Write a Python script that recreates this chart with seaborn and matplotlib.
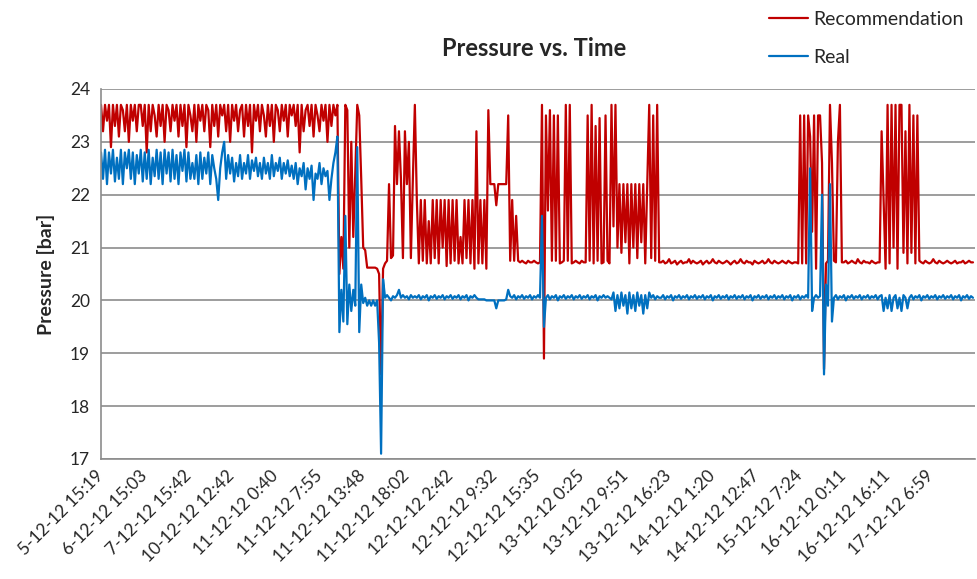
import matplotlib
matplotlib.use("Agg")
import matplotlib.pyplot as plt
import numpy as np
import pandas as pd
import seaborn as sns

# x axis labels (one every 22 samples)
time_labels = ["5-12-12 15:19", "6-12-12 15:03", "7-12-12 15:42", "10-12-12 12:42",
               "11-12-12 0:40", "11-12-12 7:55", "11-12-12 13:48", "11-12-12 18:02",
               "12-12-12 2:42", "12-12-12 9:32", "12-12-12 15:35", "13-12-12 0:25",
               "13-12-12 9:51", "13-12-12 16:23", "14-12-12 1:20", "14-12-12 12:47",
               "15-12-12 7:24", "16-12-12 0:11", "16-12-12 16:11", "17-12-12 6:59"]

# recommended pressure [bar]
rec_early = [23.7, 23.2, 23.7, 23.4, 23.7, 22.9, 23.7, 23.3, 23.7, 23.1,
             23.7, 23.6, 23.2, 23.7, 23.0, 23.7, 23.4, 23.7, 23.2, 23.7,
             23.7, 23.3, 23.7, 22.8, 23.7, 23.2, 23.7, 23.5, 23.1, 23.7,
             23.3, 23.7, 23.0, 23.7, 23.6, 23.2, 23.7, 23.4, 23.7, 23.1,
             23.7, 23.3, 23.7, 22.9, 23.7, 23.5, 23.2, 23.7, 23.0, 23.7,
             23.4, 23.7, 23.2, 23.7, 23.6, 22.9, 23.7, 23.3, 23.7, 23.1,
             23.7, 23.5, 23.7, 23.2, 23.7, 23.0, 23.7, 23.4, 23.7, 23.2,
             23.6, 23.7, 23.1, 23.7, 23.3, 23.7, 22.8, 23.7, 23.4, 23.7,
             23.2, 23.7, 23.5, 23.1, 23.7, 23.3, 23.7, 23.0, 23.7, 23.6,
             23.2, 23.7, 23.4, 23.7, 23.1, 23.7, 23.5, 23.7, 23.3, 23.7,
             22.8, 23.7, 23.2, 23.6, 23.7, 23.3, 23.7, 23.1, 23.7, 23.5,
             23.2, 23.7, 23.4, 23.7, 23.0, 23.7, 23.3, 23.7, 23.5, 23.7]
rec_drop = [20.5, 21.2, 20.6, 23.7, 23.6, 21.0, 23.0, 21.2, 22.4, 23.7,
            23.5, 22.3, 21.0, 20.95, 20.62, 20.62, 20.62, 20.62, 20.62, 20.6,
            20.5, 18.6, 20.6, 20.7, 20.75, 22.2, 20.8, 20.85, 23.3, 22.2,
            23.2, 22.3, 20.8, 23.2, 22.2, 23.0, 20.8, 22.3, 23.7]
rec_mid = [21.9, 20.7, 21.9, 20.75, 21.9, 20.7, 21.5, 20.7, 21.9, 20.8,
           21.9, 20.7, 21.9, 21.0, 21.9, 20.65, 21.9, 20.7, 21.9, 20.75,
           21.9, 20.7, 21.2, 20.7, 21.9, 20.8, 21.9, 20.7, 21.9, 20.6,
           23.2, 20.7, 21.9, 20.7, 21.9, 20.6, 23.6, 22.2, 22.2, 22.2,
           21.8, 22.2, 22.2, 22.2, 22.2, 22.2, 23.5, 20.75, 21.9, 20.75,
           21.6, 20.75, 20.72, 20.75, 20.72, 20.7, 20.75, 20.72, 20.72, 20.75,
           20.72, 20.7, 20.72]
rec_spikes = [23.7, 18.9, 23.5, 21.7, 23.6, 20.75, 23.5, 20.75, 23.5, 20.7,
              20.72, 20.75, 23.7, 20.75, 23.7, 20.7, 20.72, 20.75, 20.72, 20.7,
              20.75, 20.72, 20.72, 23.5, 20.75, 23.7, 20.7, 23.3, 20.75, 23.45,
              20.7, 20.72, 23.5, 20.75, 20.7, 23.7, 21.4, 23.7, 21.0, 22.2,
              20.9, 22.2, 21.1, 22.2, 20.7, 22.2, 21.0, 22.2, 20.8, 22.2,
              21.1, 22.2, 20.7, 22.2, 23.7, 20.8, 23.5, 20.75, 23.7, 20.72]
rec_calm = [20.72, 20.75, 20.7, 20.72, 20.78, 20.7, 20.72, 20.75, 20.68, 20.72,
            20.75, 20.7, 20.72, 20.72, 20.78, 20.7, 20.75, 20.72, 20.7, 20.72,
            20.75, 20.68, 20.72, 20.75, 20.7, 20.72, 20.78, 20.72, 20.7, 20.75,
            20.72, 20.7, 20.72, 20.75, 20.72, 20.68, 20.72, 20.75, 20.7, 20.72,
            20.78, 20.72, 20.7, 20.75, 20.72, 20.72, 20.68, 20.75, 20.72, 20.7,
            20.72, 20.75, 20.7, 20.72, 20.78, 20.72, 20.7, 20.75, 20.72, 20.7,
            20.72, 20.75, 20.72, 20.7, 20.75, 20.72, 20.7, 20.72]
rec_late = [20.72, 20.7, 23.5, 20.7, 23.5, 20.7, 23.5, 23.1, 21.3, 23.5,
            20.6, 23.5, 23.5, 22.6, 18.7, 20.7, 20.75, 23.7, 22.6, 20.75,
            20.72, 23.0, 23.7, 20.72,
            20.72, 20.75, 20.7, 20.72, 20.75, 20.72, 20.7, 20.78, 20.72, 20.7,
            20.75, 20.72, 20.72, 20.7, 20.75, 20.72, 20.7, 20.72,
            20.72, 23.2, 21.9, 20.6, 23.7, 20.7, 23.7, 21.0, 23.7, 20.6,
            23.7, 23.7, 20.9, 23.2, 20.7, 23.7, 20.9, 23.5, 20.7, 23.5,
            20.75,
            20.72, 20.7, 20.75, 20.72, 20.7, 20.72, 20.78, 20.72, 20.7, 20.75,
            20.72, 20.7, 20.72, 20.75, 20.72, 20.7, 20.72, 20.75, 20.7, 20.72,
            20.72, 20.75, 20.7, 20.72, 20.75, 20.72, 20.72]

# measured pressure [bar]
real_early = [22.8, 22.3, 22.85, 22.2, 22.8, 22.4, 22.85, 22.25, 22.7, 22.3,
              22.85, 22.2, 22.8, 22.5, 22.85, 22.3, 22.8, 22.2, 22.75, 22.4,
              22.85, 22.25, 22.8, 22.3, 22.85, 22.2, 22.7, 22.35, 22.85, 22.3,
              22.8, 22.2, 22.85, 22.4, 22.8, 22.25, 22.85, 22.3, 22.75, 22.2,
              22.8, 22.45, 22.85, 22.25, 22.8, 22.3, 22.6, 22.3, 22.75, 22.2,
              22.8, 22.3, 22.7, 22.4, 22.8, 22.2, 22.75, 22.5, 22.3, 21.9,
              22.5, 22.8, 23.0, 22.3, 22.75, 22.4, 22.7, 22.25, 22.6, 22.35,
              22.75, 22.3, 22.6, 22.4, 22.75, 22.3, 22.65, 22.45, 22.7, 22.35,
              22.6, 22.3, 22.7, 22.4, 22.6, 22.3, 22.75, 22.35, 22.6, 22.45,
              22.7, 22.3, 22.6, 22.4, 22.65, 22.35, 22.55, 22.3, 22.6, 22.2,
              22.5, 22.35, 22.6, 22.1, 22.5, 22.3, 22.55, 21.9, 22.4, 22.3,
              22.6, 22.2, 22.5, 22.35, 22.45, 21.9, 22.3, 22.6, 22.8, 23.1]
real_drop = [19.4, 20.2, 19.6, 21.6, 19.55, 20.3, 19.8, 20.2, 19.9, 22.9,
             19.4, 20.3, 19.95, 20.05, 19.9, 20.0, 19.9, 20.0, 19.9, 20.0,
             19.2, 17.1, 20.4, 20.05, 20.1, 20.05, 20.0, 20.08, 20.05, 20.1,
             20.2, 20.05, 20.1, 20.05, 20.08, 20.02, 20.1, 20.05, 20.08]
real_mid = [20.05, 20.1, 20.02, 20.08, 20.05, 20.1, 20.0, 20.08, 20.05, 20.1,
            20.03, 20.08, 20.05, 20.1, 20.02, 20.08, 20.05, 20.1, 20.03, 20.08,
            20.05, 20.1, 20.02, 20.08, 20.05, 20.1, 20.0, 20.08, 20.05, 20.1,
            20.05, 20.02, 20.02, 20.02, 20.02, 20.0, 20.0, 20.0, 20.0, 20.0,
            19.85, 20.0, 20.0, 20.0, 20.0, 20.02, 20.2, 20.08, 20.05, 20.1,
            20.02, 20.08, 20.05, 20.1, 20.03, 20.08, 20.05, 20.1, 20.02, 20.08,
            20.05, 20.1, 20.05]
real_spikes = [21.6, 19.5, 20.05, 20.1, 20.02, 20.08, 20.05, 20.1, 20.0, 20.08,
               20.05, 20.1, 20.03, 20.08, 20.05, 20.1, 20.02, 20.08, 20.05, 20.1,
               20.03, 20.08, 20.05, 20.1, 20.02, 20.08, 20.05, 20.1, 20.0, 20.08,
               20.05, 20.1, 20.05, 20.08, 20.05, 20.02, 20.15, 19.8, 20.1, 19.85,
               20.15, 19.9, 20.1, 19.75, 20.15, 19.85, 20.1, 19.8, 20.15, 19.9,
               20.1, 19.75, 20.1, 19.85, 20.15, 20.05, 20.1, 20.02, 20.08, 20.05]
real_calm = [20.05, 20.1, 20.02, 20.08, 20.05, 20.1, 20.0, 20.08, 20.05, 20.1,
             20.03, 20.08, 20.05, 20.1, 20.02, 20.08, 20.05, 20.1, 20.03, 20.08,
             20.05, 20.1, 20.02, 20.08, 20.05, 20.1, 20.0, 20.08, 20.05, 20.1,
             20.03, 20.08, 20.05, 20.1, 20.02, 20.08, 20.05, 20.1, 20.03, 20.08,
             20.05, 20.1, 20.02, 20.08, 20.05, 20.1, 20.0, 20.08, 20.05, 20.1,
             20.03, 20.08, 20.05, 20.1, 20.02, 20.08, 20.05, 20.1, 20.03, 20.08,
             20.05, 20.1, 20.02, 20.08, 20.05, 20.1, 20.0, 20.08]
real_late = [20.05, 20.1, 20.02, 20.08, 20.05, 20.1, 20.05,
             22.5, 19.8, 20.05, 20.1, 20.05, 20.08, 22.0, 18.6, 20.3, 19.9,
             22.2, 19.6, 20.05,
             20.1, 20.02, 20.08, 20.05, 20.1, 20.0, 20.08, 20.05, 20.1, 20.03,
             20.08, 20.05, 20.1, 20.02, 20.08, 20.05, 20.1, 20.03, 20.08, 20.05,
             20.1, 20.02, 20.08,
             20.1, 19.8, 20.05, 19.85, 20.1, 19.8, 20.05, 20.1, 19.85, 20.05,
             19.8, 20.1, 20.05, 19.85,
             20.05, 20.1, 20.02, 20.08, 20.05, 20.1, 20.0, 20.08, 20.05, 20.1,
             20.03, 20.08, 20.05, 20.1, 20.02, 20.08, 20.05, 20.1, 20.03, 20.08,
             20.05, 20.1, 20.02, 20.08, 20.05, 20.1, 20.0, 20.08, 20.05, 20.1,
             20.03, 20.08, 20.05]

recommendation = rec_early + rec_drop + rec_mid + rec_spikes + rec_calm + rec_late
real = real_early + real_drop + real_mid + real_spikes + real_calm + real_late

sns.set_style("white")
plt.rcParams["font.family"] = ["Lato", "DejaVu Sans"]

fig = plt.figure(figsize=(9.78, 5.79), dpi=100)
ax = fig.add_axes([0.1033, 0.2073, 0.8936, 0.639])

df = pd.DataFrame({"step": np.arange(len(recommendation)),
                   "Recommendation": recommendation, "Real": real})
long_df = df.melt(id_vars="step", var_name="series", value_name="pressure")
sns.lineplot(data=long_df, x="step", y="pressure", hue="series",
             palette={"Recommendation": "#C00000", "Real": "#0070C0"},
             estimator=None, linewidth=1.6, legend=False, ax=ax)

ax.set_xlim(0, len(recommendation))
ax.set_ylim(17, 24)
ax.set_yticks(range(17, 25))
ax.set_xticks(np.arange(len(time_labels)) * 22)
ax.set_xticklabels(time_labels, rotation=45, ha="right", va="center",
                   rotation_mode="anchor")
ax.tick_params(axis="both", length=0, labelsize=12.5)
ax.tick_params(axis="x", pad=10)
ax.tick_params(axis="y", pad=8)
ax.yaxis.grid(True, color="#8c8c8c", linewidth=1.2)
ax.set_axisbelow(True)
for side in ["top", "right"]:
    ax.spines[side].set_visible(False)
for side in ["left", "bottom"]:
    ax.spines[side].set_color("#8c8c8c")
    ax.spines[side].set_linewidth(1.2)

ax.set_xlabel("")
ax.set_ylabel("Pressure [bar]", fontsize=14, fontweight="bold", labelpad=11)
fig.text(534 / 978, 1 - 49 / 579, "Pressure vs. Time", ha="center", va="center",
         fontsize=17, fontweight="bold")

fig.legend(handles=ax.lines[:2], labels=["Recommendation", "Real"],
           loc="upper left", bbox_to_anchor=(752 / 978, 1.012), frameon=False,
           fontsize=14, handlelength=2.0, handletextpad=0.25, labelspacing=1.1)

fig.savefig("out.png", dpi=100)
